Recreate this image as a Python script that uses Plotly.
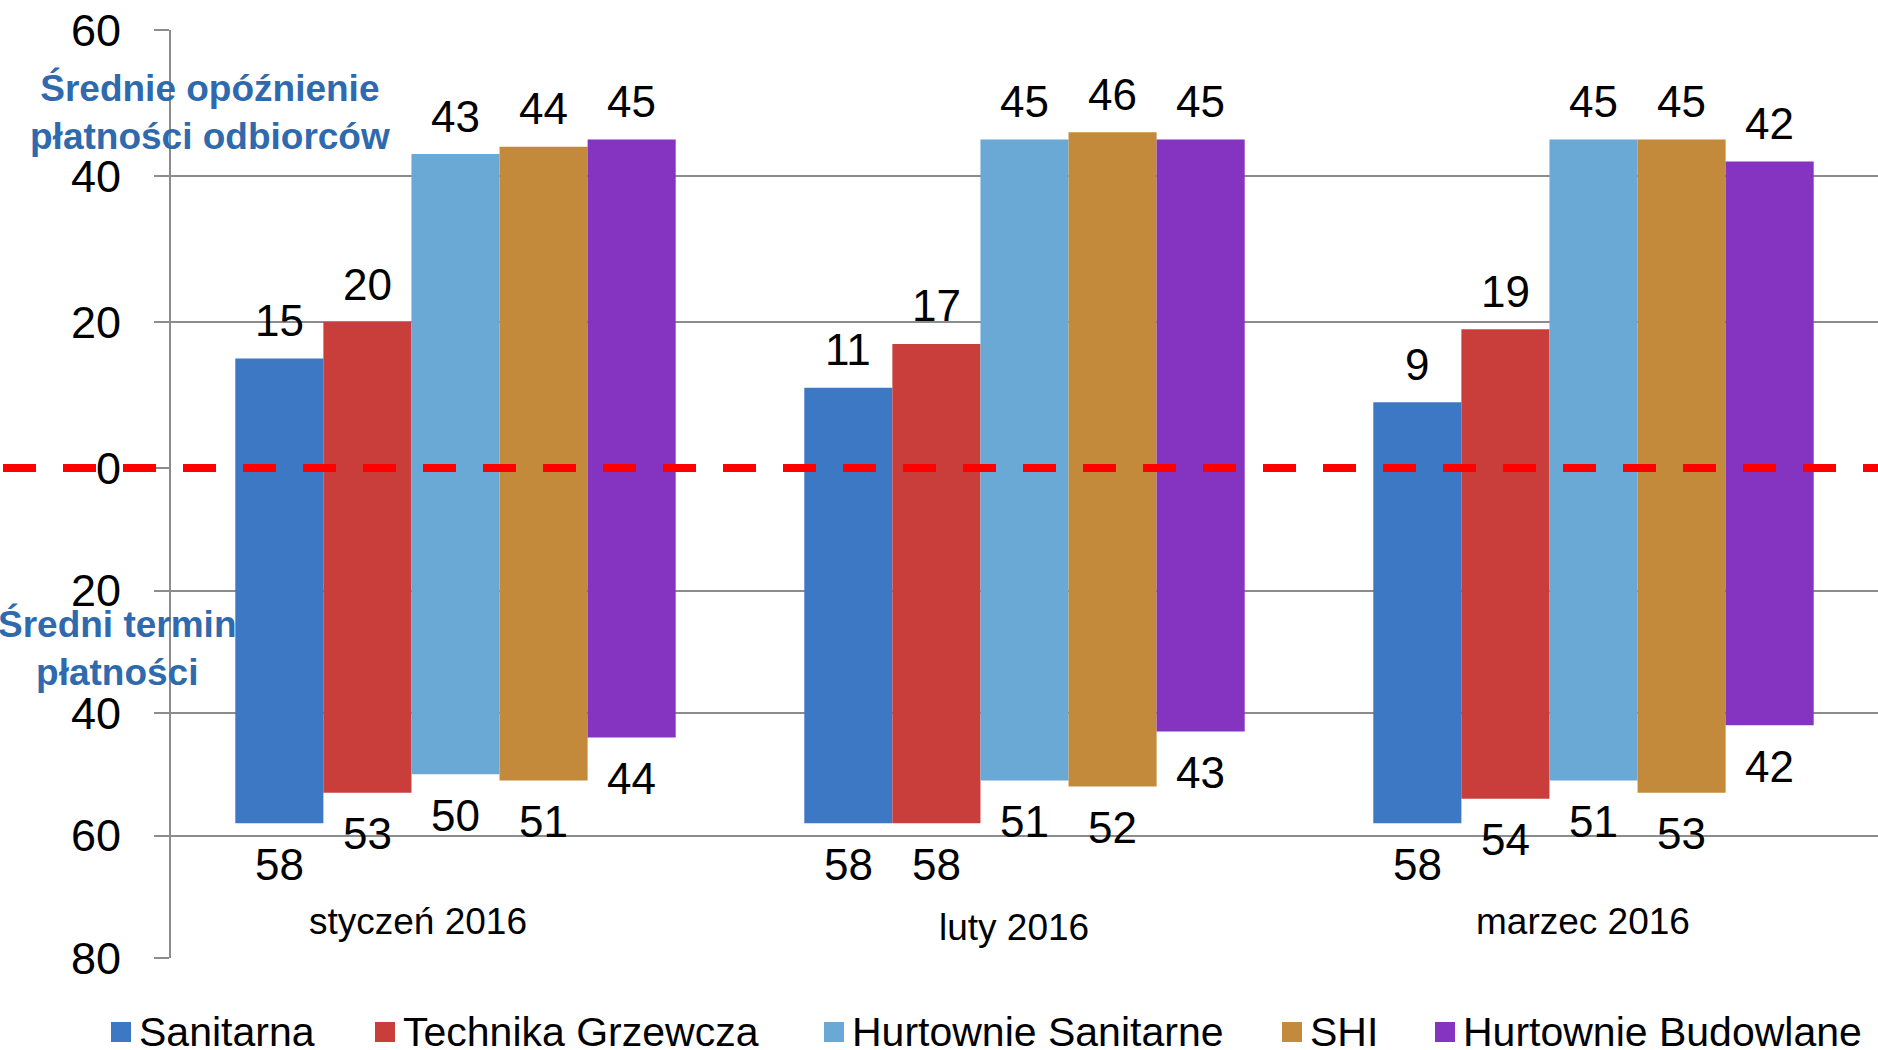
import plotly.graph_objects as go

# ---------------- data ----------------
months = ["styczeń 2016", "luty 2016", "marzec 2016"]
series = ["Sanitarna", "Technika Grzewcza", "Hurtownie Sanitarne", "SHI", "Hurtownie Budowlane"]

# upper panel: średnie opóźnienie płatności odbiorców
delay_sanitarna = [15, 11, 9]
delay_technika = [20, 17, 19]
delay_hurt_sanit = [43, 45, 45]
delay_shi = [44, 46, 45]
delay_hurt_bud = [45, 45, 42]

# lower panel: średni termin płatności
term_sanitarna = [58, 58, 58]
term_technika = [53, 58, 54]
term_hurt_sanit = [50, 51, 51]
term_shi = [51, 52, 53]
term_hurt_bud = [44, 43, 42]

upper_ticks = [0, 20, 40, 60]
lower_ticks = [20, 40, 60, 80]

colors = ["#3C78C3", "#C93E3A", "#6AA8D5", "#C38A3B", "#8534C2"]

delays = [delay_sanitarna, delay_technika, delay_hurt_sanit, delay_shi, delay_hurt_bud]
terms = [term_sanitarna, term_technika, term_hurt_sanit, term_shi, term_hurt_bud]

# ---------------- layout constants ----------------
W, H = 1878, 1050
L, R, T, B = 171, 0, 30, 92
plot_w = W - L - R
plot_h = H - T - B
zero_px = 468                      # pixel row of the zero line
split = (H - B - zero_px) / plot_h  # paper y of zero line
bargap = 0.226
bar_w = plot_w / len(months) * (1 - bargap) / len(series)

FONT = "Liberation Sans, Arial, sans-serif"
GRID = "#8C8C8C"

fig = go.Figure()

for i, name in enumerate(series):
    fig.add_trace(go.Bar(
        x=months, y=delays[i], name=name, marker=dict(color=colors[i], line=dict(width=0)),
        xaxis="x", yaxis="y", showlegend=False, hoverinfo="x+y+name",
    ))
    fig.add_trace(go.Bar(
        x=months, y=terms[i], name=name, marker=dict(color=colors[i], line=dict(width=0)),
        xaxis="x", yaxis="y2", showlegend=False, hoverinfo="x+y+name",
    ))

annotations = []
# value labels
for i in range(len(series)):
    shift = (i - (len(series) - 1) / 2) * bar_w
    for j, m in enumerate(months):
        annotations.append(dict(
            x=m, y=delays[i][j], xref="x", yref="y", text=str(delays[i][j]),
            showarrow=False, xshift=shift, yshift=38, yanchor="middle",
            font=dict(size=44, color="black", family=FONT)))
        annotations.append(dict(
            x=m, y=terms[i][j], xref="x", yref="y2", text=str(terms[i][j]),
            showarrow=False, xshift=shift, yshift=-41, yanchor="middle",
            font=dict(size=44, color="black", family=FONT)))

# category labels inside the plot
cat_xshift = [-38, -11, -11]
cat_yshift = [0, -6, 0]
for j, m in enumerate(months):
    annotations.append(dict(
        x=m, y=74, xref="x", yref="y2", text=m, showarrow=False,
        xshift=cat_xshift[j], yshift=cat_yshift[j], yanchor="middle",
        font=dict(size=37, color="black", family=FONT)))

# panel titles
def px_x(px):
    return (px - L) / plot_w

def px_y(py):
    return (H - B - py) / plot_h

annotations.append(dict(
    x=px_x(210), y=px_y(112), xref="paper", yref="paper", showarrow=False,
    text="<b>Średnie opóźnienie<br>płatności odbiorców</b>", align="center",
    xanchor="center", yanchor="middle",
    font=dict(size=37, color="#2F6AAE", family=FONT)))
annotations.append(dict(
    x=px_x(117), y=px_y(648), xref="paper", yref="paper", showarrow=False,
    text="<b>Średni termin<br>płatności</b>", align="center",
    xanchor="center", yanchor="middle",
    font=dict(size=37, color="#2F6AAE", family=FONT)))

shapes = []
# red dashed zero line across the whole width
shapes.append(dict(
    type="line", xref="paper", yref="paper", x0=px_x(3), x1=1, y0=split, y1=split,
    line=dict(color="#FF0000", width=8, dash="33px,27px"), layer="above"))

# manual legend
legend_px = [111, 375, 824, 1282, 1435]
leg_y = 1032
for i, name in enumerate(series):
    shapes.append(dict(
        type="rect", xref="paper", yref="paper",
        x0=px_x(legend_px[i]), x1=px_x(legend_px[i] + 20),
        y0=px_y(leg_y + 10), y1=px_y(leg_y - 10),
        fillcolor=colors[i], line=dict(width=0)))
    annotations.append(dict(
        x=px_x(legend_px[i] + 26), y=px_y(leg_y), xref="paper", yref="paper",
        text=name, showarrow=False, xanchor="left", yanchor="middle",
        font=dict(size=41, color="black", family=FONT)))

axis_common = dict(
    showgrid=True, gridcolor=GRID, gridwidth=2,
    showline=True, linecolor=GRID, linewidth=2,
    ticks="outside", ticklen=15, tickwidth=2, tickcolor=GRID,
    tickfont=dict(size=45, color="black", family=FONT),
    zeroline=False, ticklabelstandoff=24, fixedrange=True, automargin=False,
)

fig.update_layout(
    width=W, height=H,
    margin=dict(l=L, r=R, t=T, b=B, pad=0, autoexpand=False),
    paper_bgcolor="white", plot_bgcolor="white",
    barmode="group", bargap=bargap, bargroupgap=0,
    showlegend=False,
    font=dict(family=FONT, color="black"),
    xaxis=dict(range=[-0.5, 2.5], showticklabels=False, ticks="", showgrid=False,
               showline=False, zeroline=False, fixedrange=True, anchor="y2", automargin=False),
    yaxis=dict(domain=[split, 1], range=[0, 60], tickvals=upper_ticks, anchor="x", **axis_common),
    yaxis2=dict(domain=[0, split], range=[80, 0], tickvals=lower_ticks, anchor="x", **axis_common),
    annotations=annotations,
    shapes=shapes,
)

fig.write_html(
    "out.html",
    config={"displayModeBar": False},
    post_script="document.body.style.margin='0';document.body.style.overflow='hidden';",
)
